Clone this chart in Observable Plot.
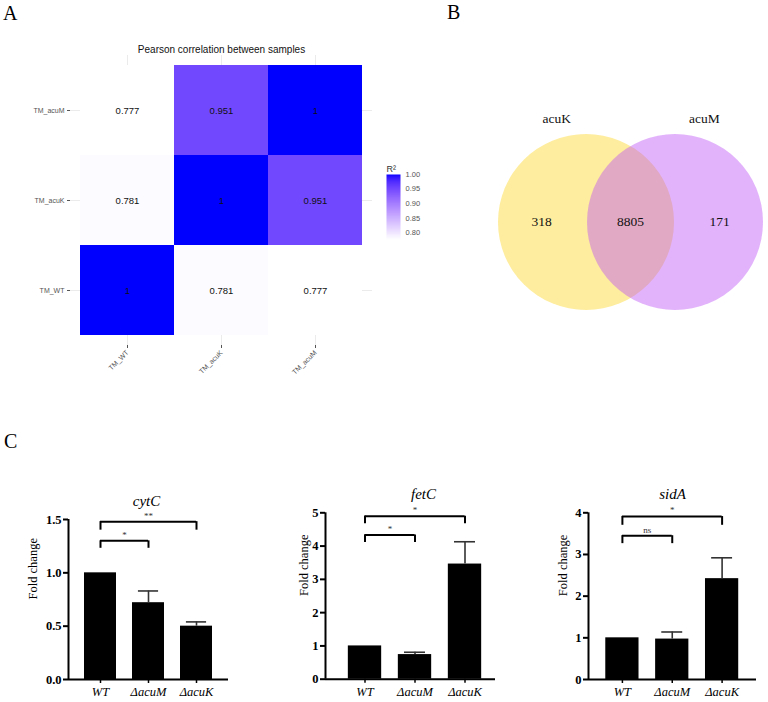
<!DOCTYPE html>
<html><head><meta charset="utf-8">
<script src="https://cdn.jsdelivr.net/npm/d3@7"></script>
<script src="https://cdn.jsdelivr.net/npm/@observablehq/plot@0.6"></script>
<style>
body{margin:0;background:#fff;}
#fig{position:relative;width:768px;height:702px;overflow:hidden;background:#fff;}
.pane{position:absolute;}
.pane svg{overflow:visible;}
.lab{position:absolute;font-family:"Liberation Serif","Times New Roman",serif;font-size:20px;color:#000;line-height:1.1;}
</style></head><body><div id="fig"></div>
<script>
// ---------- DATA ----------
// Panel A: Pearson correlation (rows/cols in samples order)
const samples = ["TM_WT", "TM_acuK", "TM_acuM"];
const corrWT   = [1, 0.781, 0.777];
const corrAcuK = [0.781, 1, 0.951];
const corrAcuM = [0.777, 0.951, 1];
const legendTicks = [0.80, 0.85, 0.90, 0.95, 1.00];
const heatTitle = "Pearson correlation between samples";

// Panel B: Venn
const vennSets = ["acuK", "acuM"];
const vennCounts = [318, 8805, 171]; // acuK only, shared, acuM only

// Panel C: qPCR fold change
const strains = ["WT", "ΔacuM", "ΔacuK"];
const cytCMean = [1.00, 0.72, 0.50];
const cytCErr  = [0, 0.11, 0.04];
const fetCMean = [1.00, 0.74, 3.46];
const fetCErr  = [0, 0.07, 0.67];
const sidAMean = [1.00, 0.97, 2.42];
const sidAErr  = [0, 0.17, 0.50];
const cytCSig = [{from: 0, to: 1, y: 1.30, leg: 1.23, label: "*"}, {from: 0, to: 2, y: 1.48, leg: 1.40, label: "**"}];
const fetCSig = [{from: 0, to: 1, y: 4.33, leg: 4.11, label: "*"}, {from: 0, to: 2, y: 4.90, leg: 4.67, label: "*"}];
const sidASig = [{from: 0, to: 1, y: 3.45, leg: 3.26, label: "ns"}, {from: 0, to: 2, y: 3.91, leg: 3.70, label: "*"}];

// ---------- HELPERS ----------
const fig = document.getElementById("fig");
function place(node, left, top) {
  const d = document.createElement("div");
  d.className = "pane"; d.style.left = left + "px"; d.style.top = top + "px";
  d.appendChild(node); fig.appendChild(d);
}
function letter(t, left, top) {
  const d = document.createElement("div");
  d.className = "lab"; d.textContent = t; d.style.left = left + "px"; d.style.top = top + "px";
  fig.appendChild(d);
}
const SANS = "'Liberation Sans', Arial, Helvetica, sans-serif";
const SERIF = "'Liberation Serif', 'Times New Roman', serif";

// ---------- PANEL A: heatmap ----------
const matrix = [corrWT, corrAcuK, corrAcuM];
const cells = [];
samples.forEach((r, i) => samples.forEach((c, j) => cells.push({row: r, col: c, v: matrix[i][j]})));
const colorDomain = [d3.min(cells, d => d.v), 1];
const colorOpts = {type: "linear", domain: colorDomain, range: ["white", "blue"], interpolate: "lab"};

place(Plot.plot({
  width: 380, height: 380, marginLeft: 70, marginRight: 8, marginTop: 55, marginBottom: 35,
  style: {fontFamily: SANS, background: "transparent"},
  x: {domain: samples, paddingInner: 0, paddingOuter: 0.095},
  y: {domain: [...samples].reverse(), paddingInner: 0, paddingOuter: 0.099},
  color: colorOpts,
  marks: [
    Plot.gridX({stroke: "#e6e6e6", strokeOpacity: 1, strokeWidth: 0.8}),
    Plot.gridY({stroke: "#e6e6e6", strokeOpacity: 1, strokeWidth: 0.8}),
    Plot.cell(cells, {x: "col", y: "row", fill: "v", inset: 0}),
    Plot.text(cells, {x: "col", y: "row", text: d => String(d.v), fontSize: 9.5, fill: "#111"}),
    Plot.axisX({tickSize: 3, tickPadding: 3, tickRotate: -45, fontSize: 7, color: "#555", label: null}),
    Plot.axisY({tickSize: 3, tickPadding: 3, fontSize: 7, color: "#555", label: null}),
    Plot.text([heatTitle], {frameAnchor: "top", dy: -10, fontSize: 10, fill: "#111"})
  ]
}), 0, 0);

// legend
place(Plot.plot({
  width: 60, height: 100, marginLeft: 6, marginRight: 40, marginTop: 24, marginBottom: 11,
  style: {fontFamily: SANS, background: "transparent"},
  x: {domain: [0, 1], axis: null},
  y: {domain: colorDomain},
  color: colorOpts,
  marks: [
    Plot.raster({x1: 0, x2: 1, y1: colorDomain[0], y2: colorDomain[1], width: 2, height: 120, fill: (x, y) => y}),
    Plot.axisY({anchor: "right", ticks: legendTicks, tickFormat: ".2f", tickSize: 0, tickPadding: 5, fontSize: 7.5, color: "#555", label: null}),
    Plot.text(["R²"], {frameAnchor: "top-left", textAnchor: "start", dy: -9, fontSize: 9, fill: "#333"})
  ]
}), 380, 150);

// ---------- PANEL B: Venn ----------
const PX = 89; // pixels per radius unit
const vW = 328, vH = 330, vCx = 190, vCy = 221.5;
const circles = vennSets.map((name, k) => ({name, cx: k === 0 ? -0.5 : 0.5}));
const regions = [
  {x: circles[0].cx - 0.5, n: vennCounts[0]},
  {x: (circles[0].cx + circles[1].cx) / 2, n: vennCounts[1]},
  {x: circles[1].cx + 0.5, n: vennCounts[2]}
];
place(Plot.plot({
  width: vW, height: vH, margin: 0,
  style: {fontFamily: SERIF, background: "transparent"},
  x: {domain: [-vCx / PX, (vW - vCx) / PX], axis: null},
  y: {domain: [-(vH - vCy) / PX, vCy / PX], axis: null},
  marks: [
    Plot.dot([circles[0]], {x: "cx", y: () => 0, r: 88, fill: "#feed9e", stroke: "none"}),
    Plot.dot([circles[1]], {x: "cx", y: () => 0, r: 88, fill: "rgb(189,82,245)", fillOpacity: 0.44, stroke: "none"}),
    Plot.text(regions, {x: "x", y: () => 0, text: d => String(d.n), fontSize: 13.5, fill: "#111"}),
    Plot.text(circles, {x: d => d.cx * 1.66, y: () => 1.16, text: "name", fontSize: 13.5, fill: "#111"})
  ]
}), 440, 0);

// ---------- PANEL C: bar charts ----------
function barChart(o) {
  const rows = strains.map((s, i) => ({i, mean: o.mean[i], err: o.err[i]}));
  const BAR = 1 / 3, CAP = 0.21;
  return Plot.plot({
    width: o.width, height: 222,
    marginLeft: o.ml, marginRight: o.mr, marginTop: o.mt, marginBottom: o.mb,
    style: {fontFamily: SERIF, background: "transparent", color: "#000"},
    x: {domain: o.xDomain},
    y: {domain: [0, o.yMax]},
    marks: [
      Plot.rectY(rows, {x1: d => d.i - BAR, x2: d => d.i + BAR, y: "mean", fill: "#000"}),
      Plot.ruleX(rows.filter(d => d.err > 0), {x: "i", y1: "mean", y2: d => d.mean + d.err, stroke: "#333", strokeWidth: 1.6}),
      Plot.ruleY(rows.filter(d => d.err > 0), {y: d => d.mean + d.err, x1: d => d.i - CAP, x2: d => d.i + CAP, stroke: "#333", strokeWidth: 1.6}),
      Plot.ruleY(o.sig, {y: "y", x1: "from", x2: "to", stroke: "#000", strokeWidth: 2}),
      Plot.ruleX(o.sig, {x: "from", y1: "leg", y2: "y", stroke: "#000", strokeWidth: 2}),
      Plot.ruleX(o.sig, {x: "to", y1: "leg", y2: "y", stroke: "#000", strokeWidth: 2}),
      Plot.text(o.sig, {x: d => (d.from + d.to) / 2, y: "y", text: "label", dy: -6, fontSize: 9, fill: "#333"}),
      Plot.ruleY([0], {stroke: "#000", strokeWidth: 2}),
      Plot.ruleX([o.xDomain[0]], {stroke: "#000", strokeWidth: 2}),
      Plot.axisY({ticks: o.yTicks, tickFormat: o.yFormat, tickSize: 5, tickPadding: 2, strokeWidth: 2, fontSize: 12.5, fontWeight: "bold", label: null}),
      Plot.axisX({ticks: [0, 1, 2], tickFormat: i => strains[i], tickSize: 4, tickPadding: 4, strokeWidth: 1.5, fontSize: 12.5, fontStyle: "italic", label: null}),
      Plot.text(["Fold change"], {frameAnchor: "left", rotate: -90, dx: o.labelDx, fontSize: 12.5}),
      Plot.text([o.gene], {frameAnchor: "top", dy: -24, dx: o.titleDx, fontSize: 15, fontStyle: "italic"})
    ]
  });
}

place(barChart({gene: "cytC", mean: cytCMean, err: cytCErr, sig: cytCSig, yMax: 1.5, yTicks: [0, 0.5, 1, 1.5], yFormat: ".1f",
  width: 240, ml: 68, mr: 12, mt: 39, mb: 23, xDomain: [-2 / 3, 2 + 2 / 3], labelDx: -36, titleDx: -2}), 0, 480);
place(barChart({gene: "fetC", mean: fetCMean, err: fetCErr, sig: fetCSig, yMax: 5, yTicks: [0, 1, 2, 3, 4, 5], yFormat: "d",
  width: 250, ml: 65, mr: 15, mt: 32.3, mb: 23.3, xDomain: [-0.79, 2.61], labelDx: -22, titleDx: 13}), 260, 480);
place(barChart({gene: "sidA", mean: sidAMean, err: sidAErr, sig: sidASig, yMax: 4, yTicks: [0, 1, 2, 3, 4], yFormat: "d",
  width: 258, ml: 78, mr: 12, mt: 32.3, mb: 23, xDomain: [-0.68, 2.69], labelDx: -26, titleDx: 0}), 510, 480);

// panel letters
letter("A", 3, 2);
letter("B", 447, 1);
letter("C", 4, 430);
</script></body></html>
